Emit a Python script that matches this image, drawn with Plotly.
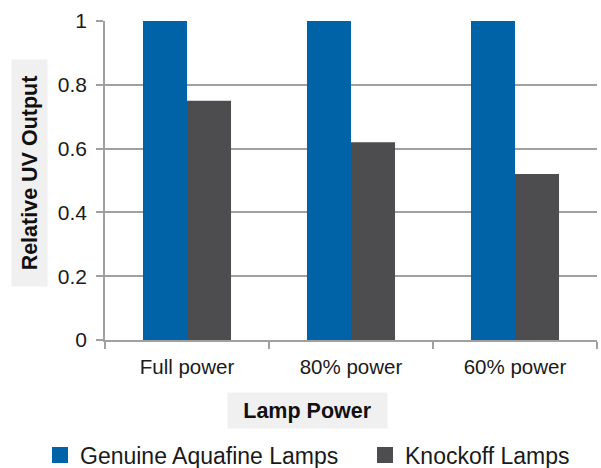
import plotly.graph_objects as go

categories = ["Full power", "80% power", "60% power"]
genuine = [1.0, 1.0, 1.0]
knockoff = [0.75, 0.62, 0.52]
series_names = ["Genuine Aquafine Lamps", "Knockoff Lamps"]
colors = ["#0063A8", "#4D4D4F"]
legend_widths = [280, None]
y_ticks = [0, 0.2, 0.4, 0.6, 0.8, 1]
y_ticklabels = ["0", "0.2", "0.4", "0.6", "0.8", "1"]

FONT = "Liberation Sans, Arial, Helvetica, sans-serif"

fig = go.Figure()
for name, vals, c in zip(series_names, [genuine, knockoff], colors):
    fig.add_trace(go.Bar(x=categories, y=vals, name=name, marker_color=c,
                         marker_line_width=0, showlegend=False))
# legend entries with larger square symbols
for name, c, lw in zip(series_names, colors, legend_widths):
    fig.add_trace(go.Scatter(x=[None], y=[None], name=name, mode="markers",
                             legendwidth=lw,
                             marker=dict(symbol="square", size=17, color=c)))

fig.update_layout(
    width=601, height=468,
    margin=dict(l=105, r=4, t=21, b=128, autoexpand=False),
    paper_bgcolor="white", plot_bgcolor="white",
    barmode="group", bargap=0.463, bargroupgap=0,
    font=dict(family=FONT, color="#1a1a1a"),
    showlegend=True,
    legend=dict(orientation="h", xref="paper", yref="paper",
                x=(40 - 105) / 492, xanchor="left", y=(340 - 455) / 319, yanchor="middle",
                font=dict(size=23, family=FONT, color="#1a1a1a"),
                itemsizing="trace", bgcolor="rgba(0,0,0,0)"),
    annotations=[
        dict(text="<b>Relative UV Output</b>", textangle=-90, xref="paper", yref="paper",
             x=(29.5 - 105) / 492, y=(340 - 173.5) / 319, xanchor="center", yanchor="middle",
             showarrow=False, bgcolor="#f0f0f0", width=224, height=33,
             font=dict(size=21.5, family=FONT, color="#111111")),
        dict(text="<b>Lamp Power</b>", xref="paper", yref="paper",
             x=(307.5 - 105) / 492, y=(340 - 410.5) / 319, xanchor="center", yanchor="middle",
             showarrow=False, bgcolor="#f0f0f0", width=157, height=33,
             font=dict(size=21.5, family=FONT, color="#111111")),
    ],
)
fig.update_xaxes(
    showline=True, linecolor="#a0a0a0", linewidth=1.5,
    ticks="outside", tickson="boundaries", ticklen=7, tickcolor="#a0a0a0", tickwidth=1.5,
    tickfont=dict(size=20.5, family=FONT, color="#1a1a1a"), ticklabelstandoff=8,
    showgrid=False, zeroline=False,
)
fig.update_yaxes(
    range=[0, 1], tickvals=y_ticks, ticktext=y_ticklabels,
    showline=True, linecolor="#a0a0a0", linewidth=1.5,
    ticks="outside", ticklen=7, tickcolor="#a0a0a0", tickwidth=1.5,
    showgrid=True, gridcolor="#a0a0a0", gridwidth=1.5,
    zeroline=False, ticklabelstandoff=5,
    tickfont=dict(size=21, family=FONT, color="#1a1a1a"),
)

fig.write_html("out.html", config={"displayModeBar": False},
               post_script="document.body.style.margin='0';")
